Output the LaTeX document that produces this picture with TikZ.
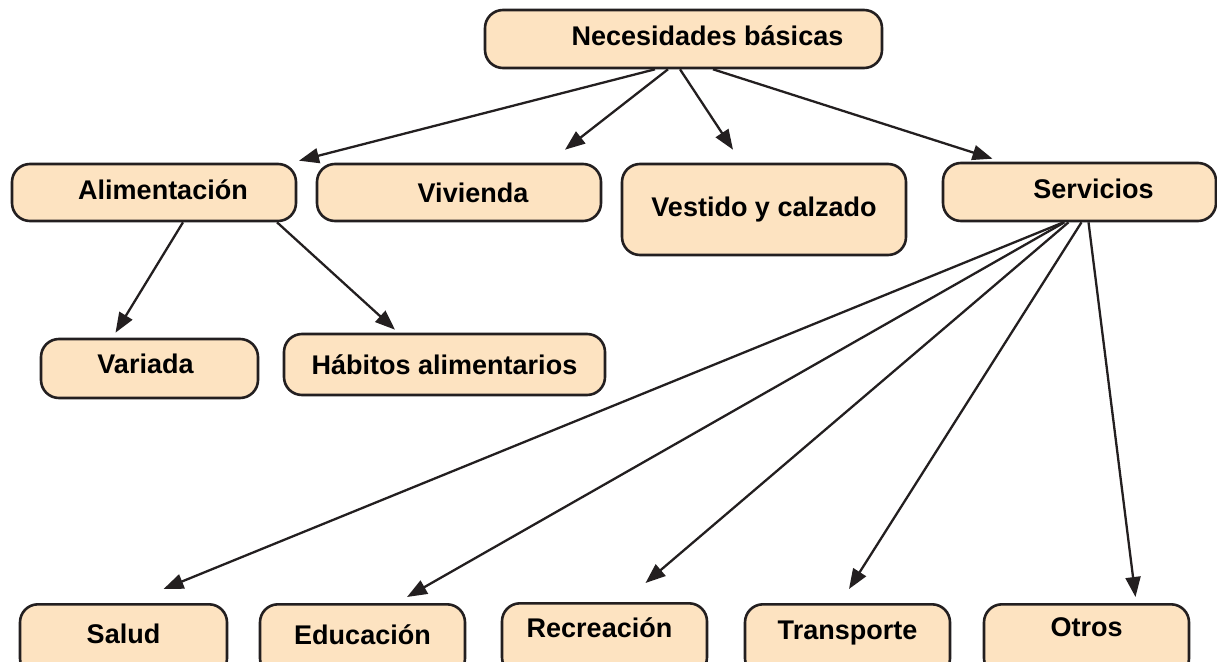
\documentclass[tikz,border=0pt]{standalone}
\usepackage{fontspec}
\setmainfont{Liberation Sans}
\usetikzlibrary{arrows.meta}
\definecolor{cajafill}{RGB}{253,227,193}
\definecolor{trazo}{RGB}{35,31,32}

\begin{document}
\begin{tikzpicture}[x=1pt,y=-1pt,font=\fontsize{27}{32}\selectfont\bfseries,
box/.style={draw=trazo,fill=cajafill,line width=2.6pt,rounded corners=18pt,inner sep=0pt,align=center},
arr/.style={-{Triangle[length=20pt,width=15pt]},line width=2.3pt,draw=trazo}]
\useasboundingbox (0,0) rectangle (1217,661);
\clip (0,0) rectangle (1217,661);
% nivel 1
\node[box,minimum width=397pt,minimum height=58pt] (nec) at (683.5,39) {\hspace*{48pt}\raisebox{6pt}{Necesidades básicas}};
% nivel 2
\node[box,minimum width=284pt,minimum height=57pt] (alim) at (154,192.5) {\hspace*{18pt}\raisebox{6pt}{Alimentación}};
\node[box,minimum width=284pt,minimum height=57pt] (viv) at (459,192.5) {\hspace*{28pt}Vivienda};
\node[box,minimum width=284pt,minimum height=91pt] (vest) at (764,209.5) {Vestido y calzado};
\node[box,minimum width=273pt,minimum height=58pt] (serv) at (1079.5,192) {\hspace*{28pt}\raisebox{6pt}{Servicios}};
% nivel 3
\node[box,minimum width=217pt,minimum height=59pt] (var) at (149.5,368.5) {\hspace*{-8pt}\raisebox{9pt}{Variada}};
\node[box,minimum width=321pt,minimum height=61pt] (hab) at (444.5,364.5) {Hábitos alimentarios};
\node[box,minimum width=207pt,minimum height=72pt,anchor=north] (salud) at (123.5,603) {\raisebox{14pt}{Salud}};
\node[box,minimum width=205pt,minimum height=72pt,anchor=north] (edu) at (362.5,603) {\raisebox{12pt}{Educación}};
\node[box,minimum width=205pt,minimum height=72pt,anchor=north] (recr) at (604.5,602) {\hspace*{-10pt}\raisebox{24pt}{Recreación}};
\node[box,minimum width=205pt,minimum height=72pt,anchor=north] (trans) at (847.5,603) {\raisebox{20pt}{Transporte}};
\node[box,minimum width=205pt,minimum height=72pt,anchor=north] (otros) at (1086.5,603) {\raisebox{26pt}{Otros}};
% flechas
\draw[arr] ([xshift=-28.5pt]nec.south)--([xshift=145pt,yshift=2pt]alim.north);
\draw[arr] ([xshift=-15.5pt]nec.south)--([xshift=106pt,yshift=13pt]viv.north);
\draw[arr] ([xshift=-3.5pt]nec.south)--([xshift=-31pt,yshift=13pt]vest.north);
\draw[arr] ([xshift=29.5pt]nec.south)--([xshift=-87pt,yshift=3pt]serv.north);
\draw[arr] ([xshift=29pt]alim.south)--([xshift=-34pt,yshift=5pt]var.north);
\draw[arr] ([xshift=123pt]alim.south)--([xshift=-49.5pt,yshift=3pt]hab.north);
\draw[arr] ([xshift=-16pt]serv.south)--([xshift=40pt,yshift=14pt]salud.north);
\draw[arr] ([xshift=-15pt]serv.south)--([xshift=44.5pt,yshift=6pt]edu.north);
\draw[arr] ([xshift=-11pt]serv.south)--([xshift=41pt,yshift=19pt]recr.north);
\draw[arr] ([xshift=2pt]serv.south)--([xshift=1.5pt,yshift=14pt]trans.north);
\draw[arr] ([xshift=9pt]serv.south)--([xshift=49pt,yshift=6pt]otros.north);
\end{tikzpicture}
\end{document}
